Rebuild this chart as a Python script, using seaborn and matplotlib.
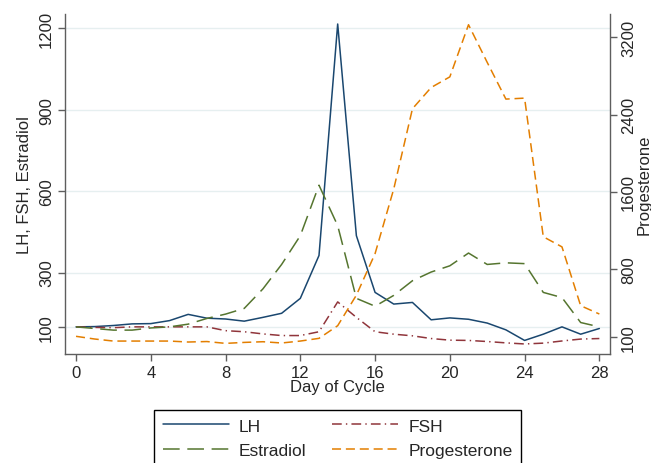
import matplotlib
matplotlib.use("Agg")
import matplotlib.pyplot as plt
import seaborn as sns
import pandas as pd

# ---- data ----
days = list(range(29))
lh = [100, 101, 105, 111, 112, 123, 146, 132, 129, 121, 135, 150, 205, 363, 1216,
      436, 227, 184, 190, 126, 133, 128, 114, 89, 50, 73, 100, 73, 94]
fsh = [100, 98, 97, 100, 100, 100, 100, 100, 86, 82, 74, 68, 68, 82, 192,
       135, 82, 73, 67, 57, 51, 50, 46, 41, 37, 40, 48, 55, 57]
estradiol = [100, 94, 88, 88, 96, 100, 110, 131, 147, 168, 240, 330, 436, 622, 473,
             205, 176, 216, 270, 302, 325, 372, 330, 336, 333, 227, 208, 116, 100]
progesterone = [104, 76, 55, 55, 55, 55, 45, 50, 31, 41, 48, 35, 55, 83, 214,
                530, 960, 1630, 2460, 2680, 2790, 3330, 2940, 2560, 2570, 1135, 1030, 421, 335]

left_ticks = [100, 300, 600, 900, 1200]
right_ticks = [100, 800, 1600, 2400, 3200]
x_ticks = [0, 4, 8, 12, 16, 20, 24, 28]

df = pd.DataFrame({"day": days, "LH": lh, "FSH": fsh,
                   "Estradiol": estradiol, "Progesterone": progesterone})

sns.set_theme(style="white")
plt.rcParams["font.family"] = ["Liberation Sans", "DejaVu Sans"]
plt.rcParams["lines.scale_dashes"] = False

W, H = 651, 464
fig = plt.figure(figsize=(W / 100, H / 100), dpi=100)
fig.patch.set_facecolor("white")
ax = fig.add_axes([65 / W, 109 / H, 545 / W, 340.3 / H])
ax2 = ax.twinx()

colors = {"LH": "#1a476f", "FSH": "#90353b", "Estradiol": "#55752f",
          "Progesterone": "#e37e00"}
dashes = {"LH": None, "FSH": (7, 3, 1, 3), "Estradiol": (12, 5.5),
          "Progesterone": (6.5, 3.5)}
lw = 1.1

handles = {}
for name in ["LH", "FSH", "Estradiol"]:
    sns.lineplot(data=df, x="day", y=name, ax=ax, color=colors[name],
                 linewidth=lw, label=name, legend=False)
    ln = ax.lines[-1]
    if dashes[name]:
        ln.set_dashes(dashes[name])
    handles[name] = ln

sns.lineplot(data=df, x="day", y="Progesterone", ax=ax2,
             color=colors["Progesterone"], linewidth=lw,
             label="Progesterone", legend=False)
ln = ax2.lines[-1]
ln.set_dashes(dashes["Progesterone"])
handles["Progesterone"] = ln

# ---- axes ----
ax.set_xlim(-0.59, 28.57)
ax.set_ylim(0, 1254)
ax2.set_ylim(-79, 3444)
ax.set_xticks(x_ticks)
ax.set_yticks(left_ticks)
ax2.set_yticks(right_ticks)

ax.yaxis.grid(True, color="#e6eff0", linewidth=1.0)
ax.xaxis.grid(False)
ax.set_axisbelow(True)

spine_col = "#5e5e5e"
for a in (ax, ax2):
    a.spines["top"].set_visible(False)
    for s in a.spines.values():
        s.set_color(spine_col)
        s.set_linewidth(1.0)
ax.spines["right"].set_visible(False)
ax2.spines["left"].set_visible(False)
ax2.spines["bottom"].set_visible(False)

fs = 12
ax.tick_params(axis="x", direction="out", length=5, width=1.0, color=spine_col,
               labelsize=fs, pad=3, bottom=True)
ax.tick_params(axis="y", direction="out", length=5, width=1.0, color=spine_col,
               labelsize=fs, pad=3, left=True, labelrotation=90)
ax2.tick_params(axis="y", direction="out", length=5, width=1.0, color=spine_col,
                labelsize=fs, pad=3, right=True, labelrotation=90)
for t in ax.get_yticklabels():
    t.set_va("center")
for t in ax2.get_yticklabels():
    t.set_va("center")

ax.set_xlabel("Day of Cycle", fontsize=fs, labelpad=-1)
ax.set_ylabel("LH, FSH, Estradiol", fontsize=fs, labelpad=5)
ax2.set_ylabel("Progesterone", fontsize=fs, labelpad=0.5, rotation=90)

order = ["LH", "Estradiol", "FSH", "Progesterone"]
leg = fig.legend([handles[k] for k in order], order, ncol=2,
                 loc="upper center", bbox_to_anchor=(337.5 / W, 1 - 410.7 / H),
                 borderaxespad=0,
                 frameon=True, fancybox=False, edgecolor="black", framealpha=1,
                 fontsize=12.5, handlelength=3.8, handletextpad=0.6,
                 columnspacing=1.45, borderpad=0.5, labelspacing=0.55)
leg.get_frame().set_linewidth(1.0)

fig.savefig("out.png", dpi=100, facecolor="white")
